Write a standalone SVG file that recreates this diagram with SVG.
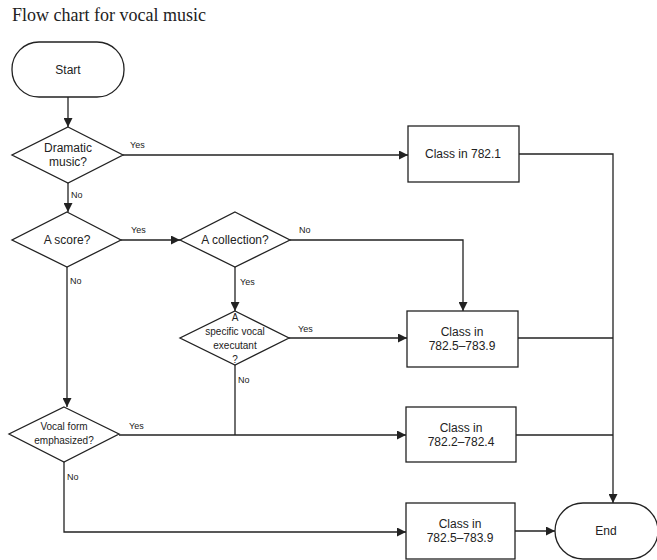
<svg xmlns="http://www.w3.org/2000/svg" width="657" height="560" viewBox="0 0 657 560">
<style>
.s{fill:#fff;stroke:#222;stroke-width:1.3}
.c{fill:none;stroke:#222;stroke-width:1.3}
text{font-family:"Liberation Sans",Arial,sans-serif;fill:#222;text-anchor:middle;font-size:12px}
.l{font-size:9px;text-anchor:start}
.t{font-family:"Liberation Serif","Times New Roman",serif;font-size:18px;text-anchor:start}
.sm{font-size:10px}
</style>
<defs>
<marker id="a" viewBox="0 0 10 10" refX="10" refY="5" markerWidth="9" markerHeight="9" markerUnits="userSpaceOnUse" orient="auto">
<path d="M0,0L10,5L0,10z" fill="#222"/>
</marker>
</defs>
<rect width="657" height="560" fill="#fff"/>
<text class="t" x="12" y="21">Flow chart for vocal music</text>
<g id="connectors">
<path class="c" d="M68,97V127" marker-end="url(#a)"/>
<path class="c" d="M123,155H408" marker-end="url(#a)"/>
<path class="c" d="M68,183V212" marker-end="url(#a)"/>
<path class="c" d="M121,240H180" marker-end="url(#a)"/>
<path class="c" d="M290,240H463V311" marker-end="url(#a)"/>
<path class="c" d="M235,267V311" marker-end="url(#a)"/>
<path class="c" d="M289,338H407" marker-end="url(#a)"/>
<path class="c" d="M235,365V435"/>
<path class="c" d="M67,267V407" marker-end="url(#a)"/>
<path class="c" d="M119,435H406" marker-end="url(#a)"/>
<path class="c" d="M64,462V532H406" marker-end="url(#a)"/>
<path class="c" d="M515,531H555" marker-end="url(#a)"/>
<path class="c" d="M519,154H613V503" marker-end="url(#a)"/>
<path class="c" d="M518,338H613"/>
<path class="c" d="M516,435H613"/>
<text class="l" x="130" y="148">Yes</text>
<text class="l" x="71" y="198">No</text>
<text class="l" x="131" y="233">Yes</text>
<text class="l" x="70" y="284">No</text>
<text class="l" x="299" y="233">No</text>
<text class="l" x="240" y="285">Yes</text>
<text class="l" x="298" y="332">Yes</text>
<text class="l" x="238" y="383">No</text>
<text class="l" x="129" y="429">Yes</text>
<text class="l" x="67" y="480">No</text>
</g>
<g id="start">
<rect class="s" x="12" y="42" width="112" height="55" rx="27"/>
<text x="68" y="74">Start</text>
</g>
<g id="dramatic">
<path class="s" d="M68,127L123,155L68,183L12,155z"/>
<text x="68" y="152">Dramatic</text>
<text x="68" y="166">music?</text>
</g>
<g id="score">
<path class="s" d="M67,212L121,240L67,267L12,240z"/>
<text x="67" y="244">A score?</text>
</g>
<g id="collection">
<path class="s" d="M235,212L290,240L235,267L180,240z"/>
<text x="235" y="244">A collection?</text>
</g>
<g id="specific">
<path class="s" d="M235,311L289,338L235,365L180,338z"/>
<text class="sm" x="235" y="321">A</text>
<text class="sm" x="235" y="335">specific vocal</text>
<text class="sm" x="235" y="349">executant</text>
<text class="sm" x="235" y="363">?</text>
</g>
<g id="vocalform">
<path class="s" d="M64,407L119,434L64,462L9,434z"/>
<text class="sm" x="64" y="430">Vocal form</text>
<text class="sm" x="64" y="444">emphasized?</text>
</g>
<g id="c7821">
<rect class="s" x="408" y="126" width="111" height="56"/>
<text x="463" y="158">Class in 782.1</text>
</g>
<g id="c7825a">
<rect class="s" x="407" y="311" width="111" height="56"/>
<text x="462" y="336">Class in</text>
<text x="462" y="350">782.5–783.9</text>
</g>
<g id="c7822">
<rect class="s" x="406" y="407" width="110" height="55"/>
<text x="461" y="432">Class in</text>
<text x="461" y="446">782.2–782.4</text>
</g>
<g id="c7825b">
<rect class="s" x="406" y="503" width="109" height="56"/>
<text x="460" y="528">Class in</text>
<text x="460" y="542">782.5–783.9</text>
</g>
<g id="end">
<rect class="s" x="555" y="503" width="103" height="56" rx="28"/>
<text x="606" y="535">End</text>
</g>
</svg>
